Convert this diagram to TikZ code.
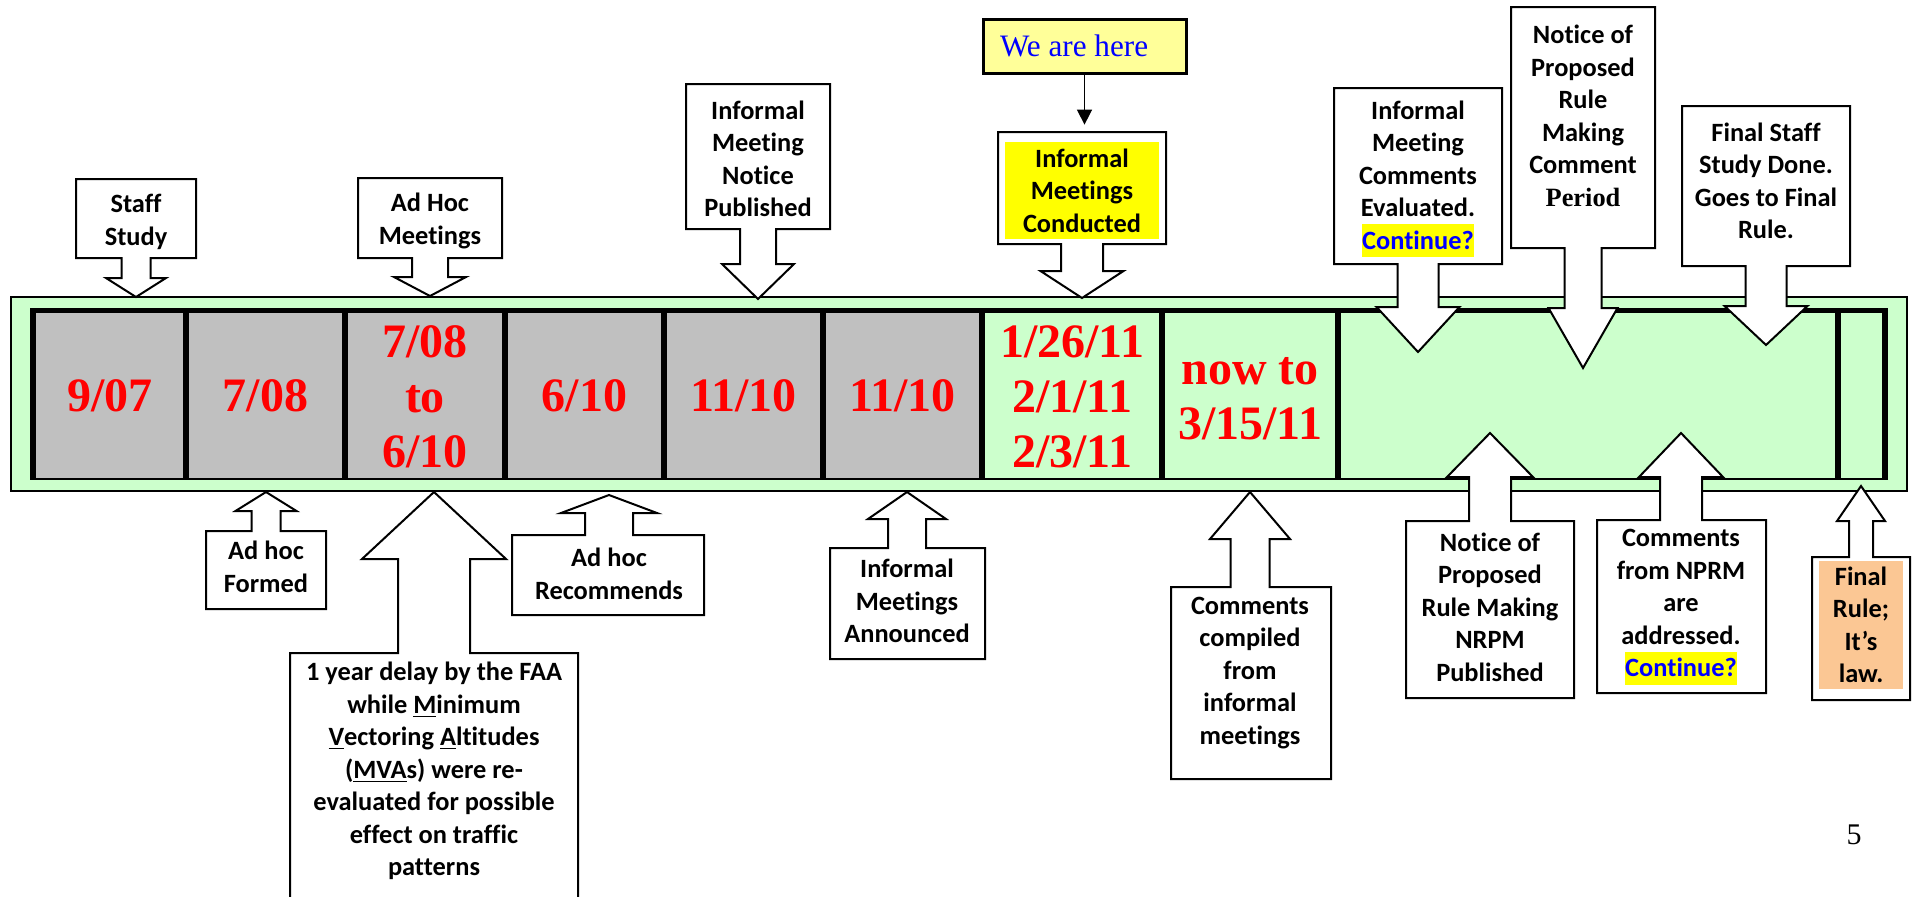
\documentclass[tikz,border=0pt]{standalone}
\usepackage{fontspec}
\setmainfont{Liberation Serif}
\newfontfamily\lblfont{Carlito}[Ligatures={NoCommon}]
\usetikzlibrary{arrows.meta}
\definecolor{bandgreen}{HTML}{CCFFCC}
\definecolor{cellgrey}{HTML}{C0C0C0}
\definecolor{paleyellow}{HTML}{FFFF99}
\definecolor{hlyellow}{HTML}{FFFF00}
\definecolor{peach}{HTML}{FBC794}
\definecolor{txtblue}{HTML}{0000FF}
% #1 x1, #2 x2, #3 attach y, #4 far y, #5 cx, #6 shaft half width, #7 head base y, #8 head half width, #9 tip y
\newcommand\calloutpath[9]{%
  \draw[calloutline] (#1,#4) -- (#2,#4) -- (#2,#3) -- ({#5+#6},#3) -- ({#5+#6},#7) -- ({#5+#8},#7) -- (#5,#9) -- ({#5-#8},#7) -- ({#5-#6},#7) -- ({#5-#6},#3) -- (#1,#3) -- cycle;}
\newcommand\hlcont[1]{{\setlength{\fboxsep}{0pt}\colorbox{hlyellow}{\rule[-4pt]{0pt}{16.5pt}\textcolor{txtblue}{#1}}}}
\begin{document}
\begin{tikzpicture}[x=0.5pt,y=-0.5pt,
  band/.style={fill=bandgreen, draw=black, line width=1pt},
  heavyrule/.style={line width=3pt},
  calloutline/.style={draw=black, fill=white, line width=1pt, line join=miter},
  lbl/.style={font=\lblfont\bfseries\fontsize{13.2pt}{16.25pt}\selectfont, align=center, inner sep=0pt},
  datelbl/.style={font=\bfseries\fontsize{24pt}{27.5pt}\selectfont, text=red, align=center, inner sep=0pt},
  pointer/.style={-{Triangle[length=7.5pt,width=7.5pt]}, line width=0.75pt}]
\useasboundingbox (0,0) rectangle (1916,896);
\clip (0,0) rectangle (1916,896);

% band and cells
\draw[band] (11,297) rectangle (1907,491);
\fill[cellgrey] (33,310) rectangle (982,479);
\draw[line width=1pt] (30,479) -- (1888,479);
\draw[line width=2.5pt] (30,310.5) -- (1888,310.5);
\foreach \xx in {33,186,345,505,664,823,982,1162,1338,1838,1885}
  \draw[heavyrule] (\xx,308) -- (\xx,479);

% dates
\node[datelbl] (d1) at (110,396) {9/07};
\node[datelbl] (d2) at (265.5,396) {7/08};
\node[datelbl] (d3) at (425,397) {7/08\\to\\6/10};
\node[datelbl] (d4) at (584.5,396) {6/10};
\node[datelbl] (d5) at (743.5,396) {11/10};
\node[datelbl] (d6) at (902.5,396) {11/10};
\node[datelbl] (d7) at (1072,397) {1/26/11\\2/1/11\\2/3/11};
\node[datelbl] (d8) at (1250,399) {now to\\3/15/11};

% top callouts
\calloutpath{76}{196}{258}{179}{136}{14.5}{278}{30}{297}
\calloutpath{358}{502}{258}{178}{430}{18}{277}{36}{296}
\calloutpath{686}{830}{229}{84}{758}{18}{264}{36}{299}
\calloutpath{998}{1166}{244}{132}{1082}{21}{271}{41.5}{298}
\calloutpath{1334}{1502}{264}{88}{1418}{20.5}{307}{41.5}{352}
\calloutpath{1511}{1655}{248}{7}{1583}{18.5}{308}{34.5}{368}
\calloutpath{1682}{1850}{266}{106}{1766}{20.5}{306}{41.5}{345}
% bottom callouts
\calloutpath{206}{326}{531}{609}{266}{14.5}{511}{30.5}{492}
\calloutpath{290}{578}{653}{910}{434}{36}{559}{72}{492}
\calloutpath{512}{704}{535}{615}{609}{24}{513}{48}{495}
\calloutpath{830}{985}{548}{659}{907}{19}{519}{39}{492}
\calloutpath{1171}{1331}{587}{779}{1250}{19.5}{539}{40}{492}
\calloutpath{1406}{1574}{521}{698}{1490}{21}{477}{43}{433}
\calloutpath{1597}{1766}{520}{693}{1681}{21}{477}{42}{433}
\calloutpath{1812}{1910}{557}{700}{1861}{12}{521}{24}{486}

% top labels
\node[lbl] (staff) at (136,222) {Staff\\Study};
\node[lbl] (adhocm) at (430,221) {Ad Hoc\\Meetings};
\node[lbl] (imnp) at (758,159) {Informal\\Meeting\\Notice\\Published};
\node[lbl, fill=hlyellow, minimum width=77pt, minimum height=48.5pt] (imc) at (1082,190.5) {Informal\\Meetings\\Conducted};
\node[lbl] (imce) at (1418,179) {Informal\\Meeting\\Comments\\Evaluated.\\\hlcont{Continue?}};
\node[lbl] (nprmcp) at (1583,116) {Notice of\\Proposed\\Rule\\Making\\Comment\\{\rmfamily Period}};
\node[lbl] (fssd) at (1766,181) {Final Staff\\Study Done.\\Goes to Final\\Rule.};

% bottom labels
\node[lbl] (adhocf) at (266,567) {Ad hoc\\Formed};
\node[lbl] (delay) at (434,771) {1 year delay by the FAA\\while \underline{M}inimum\\\underline{V}ectoring \underline{A}ltitudes\\(\underline{MVA}s) were re-\\evaluated for possible\\effect on traffic\\patterns};
\node[lbl] (adhocr) at (609,574) {Ad hoc\\Recommends};
\node[lbl] (ima) at (907,601) {Informal\\Meetings\\Announced};
\node[lbl] (ccim) at (1250,673) {Comments\\compiled\\from\\informal\\meetings};
\node[lbl] (nrpm) at (1490,607) {Notice of\\Proposed\\Rule Making\\NRPM\\Published};
\node[lbl] (cnprm) at (1681,607) {Comments\\from NPRM\\are\\addressed.\\\hlcont{Continue?}};
\node[lbl, fill=peach, minimum width=42pt, minimum height=64pt] (final) at (1861,625) {Final\\Rule;\\It’s\\law.};

% we are here
\node[draw=black, line width=1.5pt, fill=paleyellow, inner xsep=8.5pt, inner ysep=0pt, minimum height=27pt, font=\fontsize{15.6pt}{18pt}\selectfont, text=txtblue] (wah) at (1084.5,46) {\makebox[84.5pt][l]{We are here}};
\draw[pointer, shorten >=8.5pt] (wah.south) -- (wah.south |- imc.north);

% page number
\node[font=\fontsize{15pt}{18pt}\selectfont, inner sep=0pt] (pg) at (1854,835) {5};
\end{tikzpicture}
\end{document}
